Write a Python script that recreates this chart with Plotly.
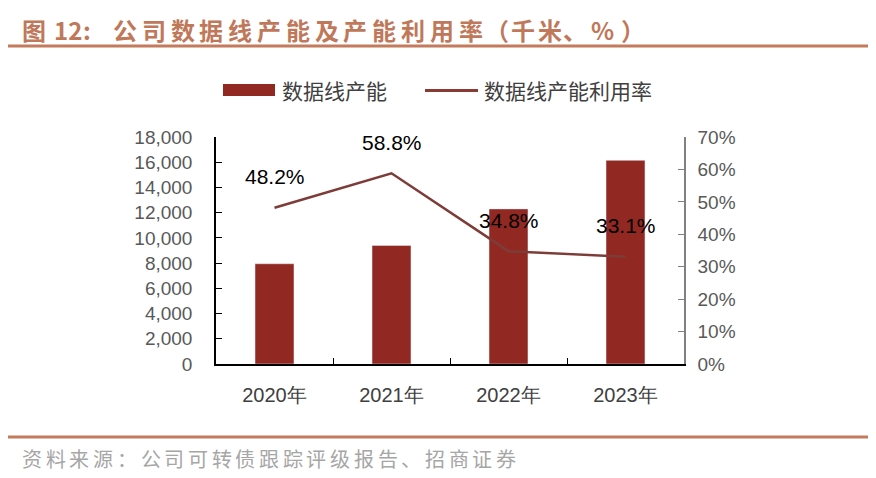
import plotly.graph_objects as go

categories = ["2020年", "2021年", "2022年", "2023年"]
capacity = [7950, 9400, 12300, 16150]
utilization = [48.2, 58.8, 34.8, 33.1]
left_ticks = [0, 2000, 4000, 6000, 8000, 10000, 12000, 14000, 16000, 18000]
right_ticks = [0, 10, 20, 30, 40, 50, 60, 70]
right_labels = [f"{t}%" for t in right_ticks]

title_text = "公司数据线产能及产能利用率"
source_text = "资料来源：公司可转债跟踪评级报告、招商证券"

# page has an 8px body margin, so the figure is drawn 8px smaller and offset
OFF = 8
W, H = 876 - OFF, 478 - OFF
L, R, T, B = 216, 684, 137, 364   # plot area in reference pixels

def px(x):
    return (x - L) / (R - L)

def py(y):
    return (B - y) / (B - T)

BAR = "#922822"
LINE = "#7D3C38"
ACC = "#C47A5D"
TITLE_C = "#C0785A"

fig = go.Figure()
fig.add_trace(go.Bar(x=categories, y=capacity, marker_color=BAR, width=0.333,
                     name="数据线产能", showlegend=False))
fig.add_trace(go.Scatter(x=categories, y=utilization, yaxis="y2", mode="lines",
                         line=dict(color=LINE, width=2.5), name="数据线产能利用率",
                         showlegend=False))

for c, v in zip(categories, utilization):
    fig.add_annotation(x=c, y=v, yref="y2", text=f"{v:.1f}%", showarrow=False,
                       yshift=31, font=dict(family="Liberation Sans", size=21, color="#000000"))

shapes = [
    dict(type="line", xref="paper", yref="paper", x0=px(4), x1=px(870), y0=py(46), y1=py(46),
         line=dict(color=ACC, width=3)),
    dict(type="line", xref="paper", yref="paper", x0=px(4), x1=px(870), y0=py(437), y1=py(437),
         line=dict(color=ACC, width=3)),
    dict(type="rect", xref="paper", yref="paper", x0=px(223), x1=px(275), y0=py(84), y1=py(96),
         fillcolor=BAR, line=dict(width=0)),
    dict(type="line", xref="paper", yref="paper", x0=px(425), x1=px(478), y0=py(90.5), y1=py(90.5),
         line=dict(color="#8A3A35", width=3)),
]
fig.update_layout(shapes=shapes)

# title, laid out glyph by glyph to reproduce the wide letter spacing
tfont = dict(family="Noto Sans CJK SC", size=24, color=TITLE_C)
title_parts = [("图", 21), ("12", 53), (":", 82)]
title_parts += [(ch, 112 + i * 28.8) for i, ch in enumerate(title_text)]
title_parts += [("（", 484), ("千", 510), ("米", 537), ("、", 562), ("%", 590), ("）", 620)]
for ch, x in title_parts:
    fig.add_annotation(xref="paper", yref="paper", x=px(x), y=py(29), xanchor="left",
                       yanchor="middle", text=f"<b>{ch}</b>", showarrow=False, font=tfont,
                       borderpad=0)

fig.add_annotation(xref="paper", yref="paper", x=px(280), y=py(90), xanchor="left", yanchor="middle",
                   text="数据线产能", showarrow=False,
                   font=dict(family="Noto Sans CJK SC", size=21, color="#404040"))
fig.add_annotation(xref="paper", yref="paper", x=px(482), y=py(90), xanchor="left", yanchor="middle",
                   text="数据线产能利用率", showarrow=False,
                   font=dict(family="Noto Sans CJK SC", size=21, color="#404040"))

sfont = dict(family="Noto Sans CJK SC", size=20, color="#A6A6A6")
for i, ch in enumerate(source_text):
    fig.add_annotation(xref="paper", yref="paper", x=px(21 + i * 23.7), y=py(458), xanchor="left",
                       yanchor="middle", text=ch, showarrow=False, font=sfont, borderpad=0)

fig.update_layout(
    width=W, height=H,
    margin=dict(l=L - OFF, r=876 - R, t=T - OFF, b=478 - B, pad=0),
    paper_bgcolor="white", plot_bgcolor="white",
    xaxis=dict(showline=True, linecolor="#000000", linewidth=1.5, ticks="inside",
               tickson="boundaries", ticklen=6, tickcolor="#000000",
               tickfont=dict(family="Liberation Sans", size=20, color="#404040"),
               ticklabelstandoff=12, showgrid=False),
    yaxis=dict(range=[0, 18000], tickvals=left_ticks, tickformat=",d",
               showline=True, linecolor="#000000", linewidth=1.5, ticks="inside",
               ticklen=6, tickcolor="#000000", showgrid=False, zeroline=False,
               tickfont=dict(family="Liberation Sans", size=19, color="#595959"),
               ticklabelstandoff=18),
    yaxis2=dict(range=[0, 70], tickvals=right_ticks, ticktext=right_labels,
                overlaying="y", side="right",
                showline=True, linecolor="#808080", linewidth=1.5, ticks="inside",
                ticklen=6, tickcolor="#808080", showgrid=False, zeroline=False,
                tickfont=dict(family="Liberation Sans", size=19, color="#595959"),
                ticklabelstandoff=8),
)

fig.write_html("out.html")
